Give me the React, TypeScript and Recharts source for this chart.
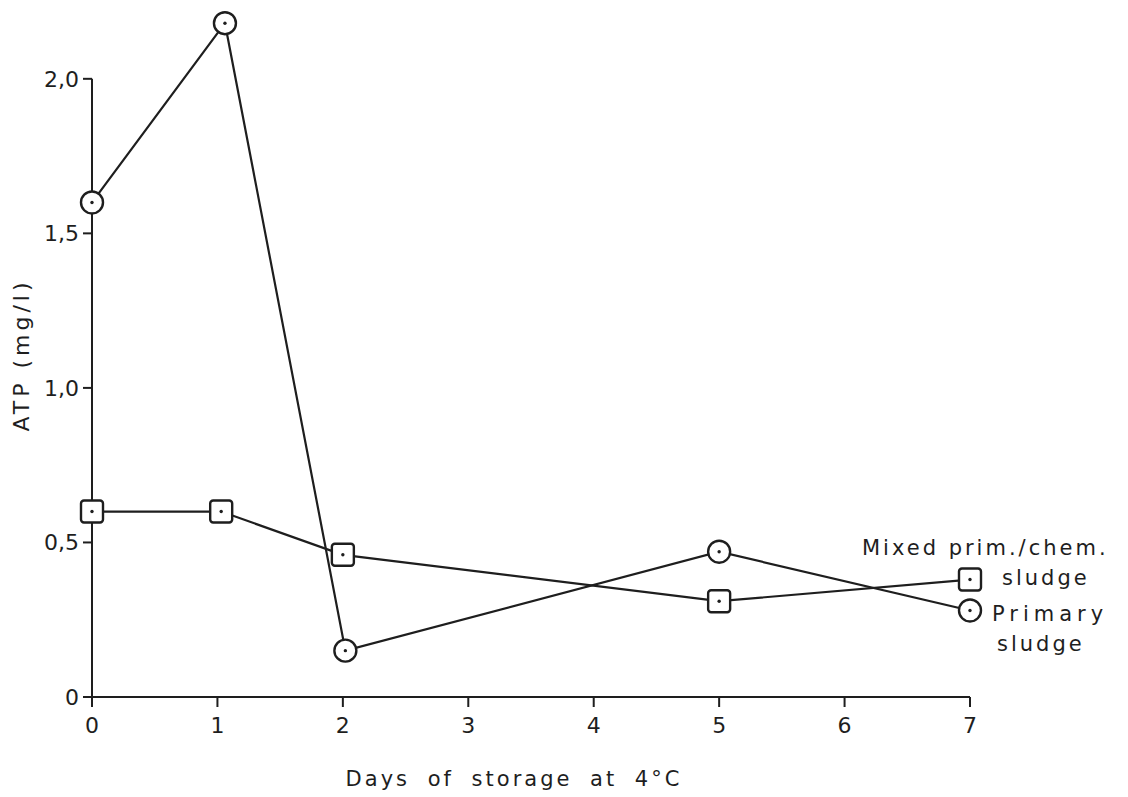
import { LineChart, Line, XAxis, YAxis, ReferenceLine } from 'recharts';

// Days of storage at 4 °C and ATP (mg/l)
const primaryDays = [0, 1.06, 2.02, 5, 7];
const primaryAtp = [1.6, 2.18, 0.15, 0.47, 0.28];

const mixedDays = [0, 1.03, 2, 5, 7];
const mixedAtp = [0.6, 0.6, 0.46, 0.31, 0.38];

const xTicks = [0, 1, 2, 3, 4, 5, 6, 7];
const yTicks = [0, 0.5, 1.0, 1.5, 2.0];

const primaryData = primaryDays.map((day, i) => ({ day, atp: primaryAtp[i] }));
const mixedData = mixedDays.map((day, i) => ({ day, atp: mixedAtp[i] }));

const INK = '#1e1e1e';
const FONT = '"DejaVu Sans", sans-serif';

const fmt = (v: number) => (v === 0 ? '0' : v.toFixed(1).replace('.', ','));

function CircleDot(props: any) {
    const { cx, cy, index } = props;
    if (cx == null || cy == null) return <g />;
    const last = index === primaryData.length - 1;
    return (
        <g key={`c-${index}`}>
            <circle cx={cx} cy={cy} r={11} fill="#fff" stroke={INK} strokeWidth={2.4} />
            <circle cx={cx} cy={cy} r={1.7} fill={INK} />
            {last && (
                <g fontFamily={FONT} fontSize={21} fill={INK}>
                    <text x={cx + 22} y={cy + 4} dominantBaseline="central" letterSpacing={5}>Primary</text>
                    <text x={cx + 27} y={cy + 34} dominantBaseline="central" letterSpacing={3}>sludge</text>
                </g>
            )}
        </g>
    );
}

function SquareDot(props: any) {
    const { cx, cy, index } = props;
    if (cx == null || cy == null) return <g />;
    const last = index === mixedData.length - 1;
    return (
        <g key={`s-${index}`}>
            <rect x={cx - 11} y={cy - 11} width={22} height={22} rx={3} fill="#fff" stroke={INK} strokeWidth={2.4} />
            <circle cx={cx} cy={cy} r={1.7} fill={INK} />
            {last && (
                <g fontFamily={FONT} fontSize={21} fill={INK} letterSpacing={3}>
                    <text x={cx - 108} y={cy - 32} dominantBaseline="central">Mixed prim./chem.</text>
                    <text x={cx + 32} y={cy - 2} dominantBaseline="central">sludge</text>
                </g>
            )}
        </g>
    );
}

export default function App() {
    return (
        <div style={{ position: 'absolute', left: 0, top: 0, background: '#fff' }}>
            <LineChart
                width={1128}
                height={797}
                margin={{ top: 17, right: 158, bottom: 60, left: 34 }}
            >
                <XAxis
                    dataKey="day"
                    type="number"
                    domain={[0, 7]}
                    ticks={xTicks}
                    allowDuplicatedCategory={false}
                    stroke={INK}
                    strokeWidth={2}
                    tickSize={10}
                    tickMargin={10}
                    height={40}
                    tick={{ fill: INK, fontSize: 22, fontFamily: FONT }}
                />
                <YAxis
                    dataKey="atp"
                    type="number"
                    domain={[0, 2.2]}
                    ticks={yTicks}
                    tickFormatter={fmt}
                    axisLine={false}
                    stroke={INK}
                    strokeWidth={2}
                    tickSize={9}
                    tickMargin={4}
                    width={58}
                    tick={{ fill: INK, fontSize: 22, fontFamily: FONT }}
                />
                <ReferenceLine
                    segment={[{ x: 0, y: 0 }, { x: 0, y: 2 }]}
                    stroke={INK}
                    strokeWidth={2}
                />
                <Line
                    data={mixedData}
                    dataKey="atp"
                    stroke={INK}
                    strokeWidth={2.2}
                    dot={SquareDot}
                    activeDot={false}
                    isAnimationActive={false}
                />
                <Line
                    data={primaryData}
                    dataKey="atp"
                    stroke={INK}
                    strokeWidth={2.2}
                    dot={CircleDot}
                    activeDot={false}
                    isAnimationActive={false}
                />
                <text
                    x={21}
                    y={355}
                    transform="rotate(-90, 21, 355)"
                    textAnchor="middle"
                    dominantBaseline="central"
                    fontFamily={FONT}
                    fontSize={22}
                    letterSpacing={4}
                    fill={INK}
                >
                    ATP (mg/l)
                </text>
                <text
                    x={514}
                    y={779}
                    textAnchor="middle"
                    dominantBaseline="central"
                    fontFamily={FONT}
                    fontSize={21}
                    letterSpacing={3}
                    wordSpacing={8}
                    fill={INK}
                >
                    Days of storage at 4°C
                </text>
            </LineChart>
        </div>
    );
}
